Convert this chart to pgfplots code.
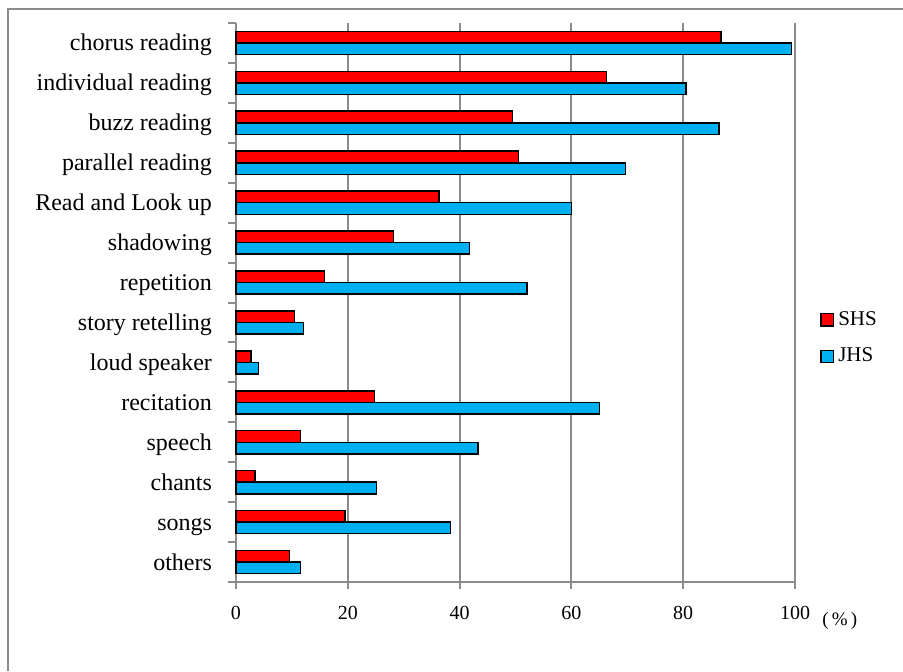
\documentclass[border=0pt]{standalone}
\usepackage{pgfplots}
\pgfplotsset{compat=1.18}
\usepackage{pgfplotstable}
\usepackage{fontspec}
\setmainfont{Liberation Serif}

\definecolor{shsred}{HTML}{FF0000}
\definecolor{jhsblue}{HTML}{00B0F0}
\definecolor{framegray}{HTML}{8C8C8C}

% Share of teachers using each read-aloud activity (%)
\pgfplotstableread{
y  SHS   JHS
13 86.8  99.4
12 66.3  80.5
11 49.5  86.4
10 50.5  69.7
9  36.3  60.0
8  28.2  41.8
7  15.8  52.1
6  10.5  12.1
5  2.7   4.0
4  24.8  65.0
3  11.5  43.3
2  3.4   25.1
1  19.5  38.4
0  9.6   11.5
}\activities

\begin{document}
\begin{tikzpicture}
\path[use as bounding box] (-118pt,-44.5pt) rectangle (333.5pt,291pt);
\draw[framegray, line width=1pt] (-114pt,-44.5pt) -- (-114pt,286.5pt) -- (333.5pt,286.5pt);
\begin{axis}[
  at={(0,0)}, anchor=south west,
  scale only axis,
  width=279.5pt, height=279.5pt,
  xbar,
  bar width=0.29,
  xmin=0, xmax=100,
  ymin=-0.5, ymax=13.5,
  xtick={0,20,...,100},
  ytick={0,...,13},
  yticklabels={others,songs,chants,speech,recitation,loud speaker,story retelling,repetition,shadowing,Read and Look up,parallel reading,buzz reading,individual reading,chorus reading},
  minor ytick={-0.5,0.5,...,13.5},
  axis x line*=bottom,
  axis y line*=left,
  axis line style={framegray, line width=1pt},
  tick align=outside,
  major tick length=3.5pt,
  minor tick length=4pt,
  major x tick style={framegray, line width=1pt},
  major y tick style={draw=none},
  minor y tick style={framegray, line width=1pt},
  xmajorgrids,
  major grid style={framegray, line width=1pt},
  /pgf/number format/assume math mode=true,
  xticklabel style={font=\fontsize{10}{12}\selectfont, yshift=-5pt},
  yticklabel style={font=\fontsize{12}{14}\selectfont, xshift=-5pt,
    anchor=east, text height=9pt, text depth=1pt},
  legend style={draw=none, fill=none, at={(1.0447,0.4365)}, anchor=west,
    font=\fontsize{10.5}{12}\selectfont, row sep=6pt, inner sep=0pt,
    cells={anchor=west}},
  legend image code/.code={\draw[#1] (0pt,-3.1pt) rectangle (6.2pt,3.1pt);},
  clip=false,
]
\addplot[fill=shsred, draw=black, line width=0.75pt, bar shift=0.145] table[x=SHS, y=y] {\activities};
\addplot[fill=jhsblue, draw=black, line width=0.75pt, bar shift=-0.145] table[x=JHS, y=y] {\activities};
\legend{SHS, JHS}
\node[font=\fontsize{9.5}{11}\selectfont, anchor=center] at (axis cs:108,-0.5) [yshift=-19.3pt] {(\,\%\,)};
\end{axis}
\end{tikzpicture}
\end{document}
